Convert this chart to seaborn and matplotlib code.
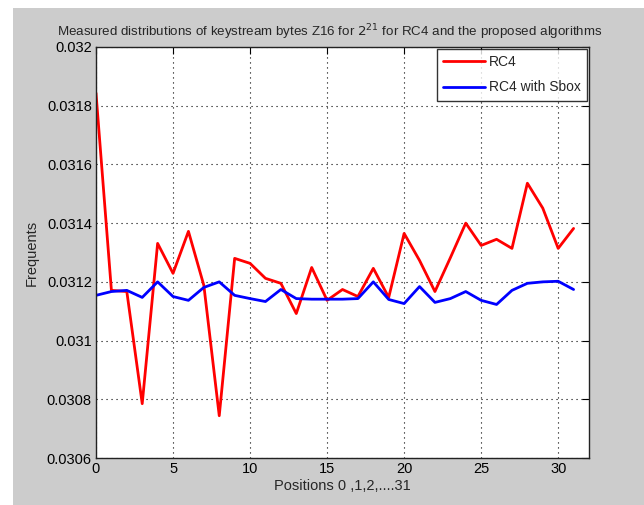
import matplotlib
matplotlib.use("Agg")
import matplotlib.pyplot as plt
import seaborn as sns
import pandas as pd
import numpy as np
from matplotlib.patches import Rectangle

positions = list(range(32))
rc4 = [0.031843, 0.031171, 0.031167, 0.030785, 0.031331, 0.031229, 0.031372, 0.031188,
       0.030744, 0.031280, 0.031263, 0.031212, 0.031195, 0.031092, 0.031249, 0.031137,
       0.031174, 0.031150, 0.031246, 0.031147, 0.031365, 0.031273, 0.031167, 0.031282,
       0.031400, 0.031324, 0.031345, 0.031314, 0.031536, 0.031451, 0.031314, 0.031382]
rc4_sbox = [0.031154, 0.031167, 0.031171, 0.031147, 0.031200, 0.031150, 0.031137, 0.031181,
            0.031200, 0.031154, 0.031143, 0.031133, 0.031174, 0.031143, 0.031141, 0.031141,
            0.031141, 0.031143, 0.031200, 0.031140, 0.031126, 0.031184, 0.031130, 0.031143,
            0.031167, 0.031137, 0.031123, 0.031171, 0.031195, 0.031200, 0.031202, 0.031174]
series_names = ["RC4", "RC4 with Sbox"]
xticks = [0, 5, 10, 15, 20, 25, 30]
yticks = [0.0306, 0.0308, 0.031, 0.0312, 0.0314, 0.0316, 0.0318, 0.032]
ytick_labels = ["0.0306", "0.0308", "0.031", "0.0312", "0.0314", "0.0316", "0.0318", "0.032"]

df = pd.DataFrame({
    "pos": positions * 2,
    "freq": rc4 + rc4_sbox,
    "series": [series_names[0]] * 32 + [series_names[1]] * 32,
})

sns.set_style("white")
fam = ["Liberation Sans", "DejaVu Sans"]
plt.rcParams["font.family"] = fam

fig = plt.figure(figsize=(6.44, 5.05), dpi=100)
fig.patch.set_facecolor("white")
fig.add_artist(Rectangle((13 / 644, 0), 1, 1 - 8 / 505, transform=fig.transFigure,
                         facecolor="#cccccc", edgecolor="none", zorder=-10))

ax = fig.add_axes([96 / 644, 1 - 458 / 505, (589 - 96) / 644, (458 - 47) / 505])
ax.set_facecolor("white")
sns.lineplot(data=df, x="pos", y="freq", hue="series",
             palette={"RC4": "#ff0000", "RC4 with Sbox": "#0000ff"},
             linewidth=2, ax=ax, legend=True)

ax.set_xlim(0, 32)
ax.set_ylim(0.0306, 0.032)
ax.set_xticks(xticks)
ax.set_xticklabels([str(t) for t in xticks])
ax.set_yticks(yticks)
ax.set_yticklabels(ytick_labels)
ax.grid(True, color="black", linestyle=(0, (1, 3.5)), linewidth=0.8)
ax.tick_params(direction="in", length=5, width=0.8, top=True, right=True,
               labelsize=10.5, colors="black", pad=3)
for s in ax.spines.values():
    s.set_visible(True)
    s.set_color("#222222")
    s.set_linewidth(1)

ax.set_xlabel("Positions 0 ,1,2,....31", fontsize=10.5, labelpad=2)
ax.set_ylabel("Frequents", fontsize=10.5, labelpad=6)
ax.set_title("Measured distributions of keystream bytes Z16 for $2^{21}$ for RC4 and the proposed algorithms",
             fontsize=9.6, pad=8, x=0.475)

leg = ax.legend(loc="upper right", fontsize=10, frameon=True, fancybox=False,
                borderaxespad=0.15, handlelength=3.0, handletextpad=0.3,
                borderpad=0.45, labelspacing=0.8)
leg.get_frame().set_edgecolor("black")
leg.get_frame().set_linewidth(1)
leg.set_title(None)

fig.savefig("out.png", dpi=100, facecolor=fig.get_facecolor())
